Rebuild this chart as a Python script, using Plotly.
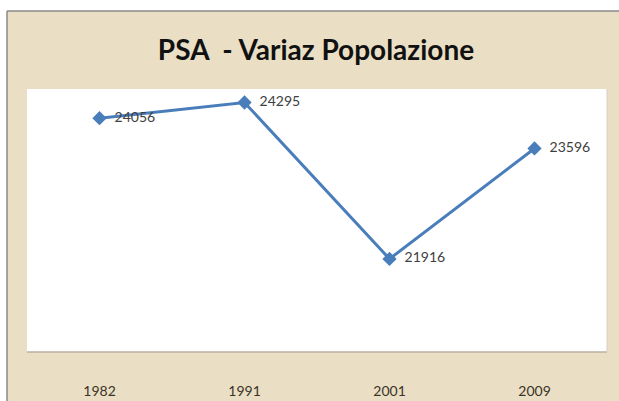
import plotly.graph_objects as go

years = ["1982", "1991", "2001", "2009"]
population = [24056, 24295, 21916, 23596]
labels = ["  " + str(v) for v in population]

W, H = 619, 401
L, R, T, B = 27, 12, 89, 49
pw, ph = W - L - R, H - T - B

def px_x(x):
    return (x - L) / pw

def px_y(y):
    return (H - B - y) / ph

FONT = "Lato, Carlito, Calibri, sans-serif"

fig = go.Figure()
fig.add_trace(go.Scatter(
    x=years, y=population, mode="lines+markers+text",
    text=labels, textposition="middle right",
    textfont=dict(family=FONT, size=14, color="#404040"),
    line=dict(color="#4A7EBB", width=3),
    marker=dict(symbol="diamond", size=11, color="#4A7EBB"),
    cliponaxis=False, hoverinfo="skip",
))

shapes = [
    dict(type="rect", xref="paper", yref="paper", x0=px_x(-5), x1=px_x(W + 5), y0=px_y(11), y1=px_y(-5),
         fillcolor="white", line=dict(width=0), layer="below"),
    dict(type="rect", xref="paper", yref="paper", x0=px_x(-5), x1=px_x(7), y0=px_y(H + 5), y1=px_y(-5),
         fillcolor="white", line=dict(width=0), layer="below"),
    dict(type="line", xref="paper", yref="paper", x0=px_x(7), x1=px_x(W + 5), y0=px_y(11), y1=px_y(11),
         line=dict(color="#8a8a8a", width=1.5)),
    dict(type="line", xref="paper", yref="paper", x0=px_x(7), x1=px_x(7), y0=px_y(11), y1=px_y(H + 5),
         line=dict(color="#8a8a8a", width=1.5)),
    dict(type="line", xref="paper", yref="paper", x0=0, x1=1, y0=0, y1=0,
         line=dict(color="#b8b0a0", width=1.5)),
    dict(type="line", xref="paper", yref="paper", x0=1, x1=1, y0=0, y1=1,
         line=dict(color="#d8d0c0", width=1)),
]

fig.update_layout(
    width=W, height=H,
    margin=dict(l=L, r=R, t=T, b=B, pad=0, autoexpand=False),
    paper_bgcolor="#EADFC4",
    plot_bgcolor="white",
    showlegend=False,
    shapes=shapes,
    title=dict(text="<b>PSA  - Variaz Popolazione</b>", x=316 / W, xref="container", xanchor="center",
               y=1 - 50 / H, yref="container", yanchor="middle",
               font=dict(family=FONT, size=28, color="#111111")),
    xaxis=dict(type="category", showgrid=False, zeroline=False, showline=False, automargin=False,
               range=[-0.5, 3.5], ticks="outside", ticklen=26, tickcolor="rgba(0,0,0,0)",
               tickfont=dict(family=FONT, size=14, color="#3a3328")),
    yaxis=dict(range=[20500, 24500], showgrid=False, zeroline=False, showline=False, automargin=False,
               showticklabels=False, ticks=""),
)

fig.write_html("out.html", config={"displayModeBar": False},
               post_script="document.body.style.margin='0';document.body.style.overflow='hidden';")
